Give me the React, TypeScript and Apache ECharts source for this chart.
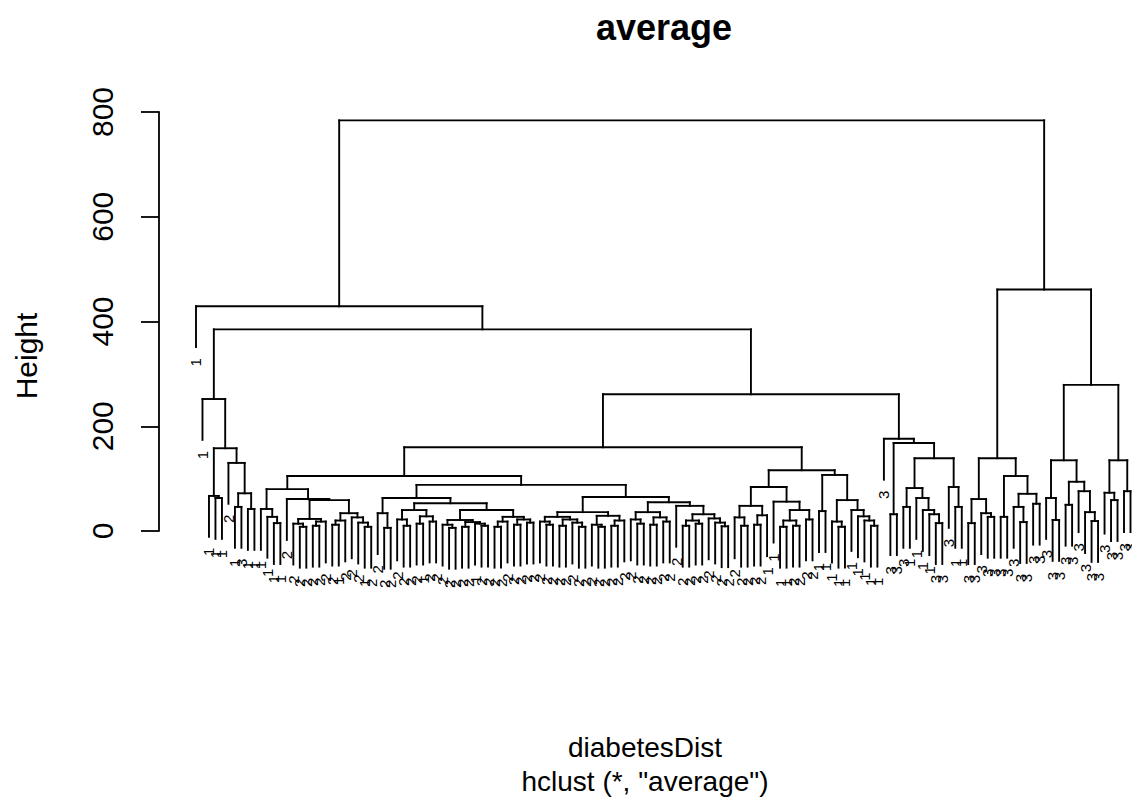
import React, { useEffect, useRef } from "react";
import * as echarts from "echarts";

// Merge heights of the dendrogram (hclust, average linkage); leaves are class labels.
// Node = [height, left, right]; leaf = label string.
const hangHeight = 78;

const groupOutliers = [252, "1", [158, [67, "1", [63, "1", "1"]], [130, "2", [72, [46, "1", "3"], [42, "1", "1"]]]]];

const groupMixedA = [80, [42, "1", [27, "1", [15, "1", "1"]]], [61, "2", [59, [23, [14, "2", [8, "2", "2"]], [18, [10, "2", "2"], "2"]], [34, [20, [12, "2", "1"], "2"], [26, "2", [16, "2", [8, "1", "2"]]]]]]];

const groupTwosA = [63, [34, "2", [6, "2", "2"]], [53, [40, [22, "2", [10, "2", "2"]], [28, [14, "2", "1"], [18, "2", "2"]]], [40, [21, [12, "2", [6, "2", "2"]], [17, [8, "2", "2"], [14, "1", [10, "2", "2"]]]], [27, [18, [8, "2", "2"], "2"], [22, [12, "2", "2"], [16, "2", "2"]]]]]];

const groupTwosB = [65, [36, [27, [18, "2", [12, "2", "2"]], [22, [10, "2", "2"], [16, "2", [8, "2", "2"]]]], [29, [12, "2", [8, "2", "2"]], [20, [10, "2", "2"], "2"]]], [55, [36, [22, "2", [14, "2", "2"]], [26, [12, "2", "2"], [18, "2", "2"]]], [48, "2", [32, [20, [10, "2", "2"], [14, "2", "2"]], [24, "2", [16, "2", [9, "2", "2"]]]]]]];

const groupMixedB = [116, [84, [48, [26, "2", [10, "2", "2"]], [30, [12, "2", "2"], "1"]], [56, "1", [40, [20, [8, "1", "1"], [10, "2", "2"]], [22, "2", "2"]]]], [107, [38, "1", "1"], [59, [18, "1", [8, "1", "1"]], [40, "1", [28, "1", [20, "1", [10, "1", "1"]]]]]]];

const groupThreesA = [176, "3", [168, [32, "3", "3"], [139, [82, [46, "3", "1"], [63, "1", [40, "1", [32, "1", [15, "3", "3"]]]]], [84, "3", [46, "1", "1"]]]]];

const groupThreesB = [139, [61, [15, "3", "3"], [34, "3", [27, "3", "3"]]], [105, [27, "3", "3"], [71, [46, "3", [17, "3", "3"]], [52, "3", "3"]]]];

const groupThreesC = [279, [135, [63, "3", [21, "3", "3"]], [94, [50, "3", "3"], [76, "3", [36, "3", [19, "3", "3"]]]]], [135, [73, "3", [59, "3", "3"]], [76, "3", "3"]]];

const upperHeights = [784, 429, 385, 261, 160, 105, 88, 461];

const yTicks = [0, 200, 400, 600, 800];

function buildTree(): any {
  const [hRoot, hL, h385, h261, h160, h105, h88, hR] = upperHeights;
  return [
    hRoot,
    [hL, "1", [h385, groupOutliers, [h261, [h160, [h105, groupMixedA, [h88, groupTwosA, groupTwosB]], groupMixedB], groupThreesA]]],
    [hR, groupThreesB, groupThreesC],
  ];
}

function layoutTree(tree: any) {
  const segs: number[][] = [];
  const leaves: any[] = [];
  let idx = 0;
  const walk = (node: any, parentH: number): { x: number; y: number } => {
    if (typeof node === "string") {
      const x = idx++;
      leaves.push([x, parentH - hangHeight, node]);
      return { x, y: parentH - hangHeight };
    }
    const [h, l, r] = node;
    const a = walk(l, h);
    const b = walk(r, h);
    segs.push([a.x, h, b.x, h]);
    segs.push([a.x, h, a.x, a.y]);
    segs.push([b.x, h, b.x, b.y]);
    return { x: (a.x + b.x) / 2, y: h };
  };
  walk(tree, 0);
  return { segs, leaves, count: idx };
}

const FONT = '"Liberation Sans", Arial, Helvetica, sans-serif';

export default function App() {
  const ref = useRef<HTMLDivElement>(null);
  useEffect(() => {
    document.body.style.margin = "0";
    const chart = echarts.init(ref.current!, null, { renderer: "svg" });
    const { segs, leaves, count } = layoutTree(buildTree());
    const option: any = {
      animation: false,
      backgroundColor: "#ffffff",
      grid: { left: 159, right: 1.5, top: 112, bottom: 272, containLabel: false },
      xAxis: { type: "value", min: -5.7, max: count - 1, show: false },
      yAxis: {
        type: "value",
        min: yTicks[0],
        max: yTicks[yTicks.length - 1],
        interval: 200,
        axisLine: { show: true, onZero: false, lineStyle: { color: "#000", width: 1.8 } },
        axisTick: { show: true, length: 18, lineStyle: { color: "#000", width: 1.8 } },
        axisLabel: { rotate: 90, margin: 42, fontSize: 30, color: "#000", fontFamily: FONT },
        splitLine: { show: false },
      },
      graphic: [
        {
          type: "text",
          x: 664,
          y: 27,
          style: { text: "average", font: `bold 36px ${FONT}`, fill: "#000", align: "center", verticalAlign: "middle" },
        },
        {
          type: "text",
          x: 26,
          y: 356,
          rotation: Math.PI / 2,
          style: { text: "Height", font: `30px ${FONT}`, fill: "#000", align: "center", verticalAlign: "middle" },
        },
        {
          type: "text",
          x: 645,
          y: 747,
          style: { text: "diabetesDist", font: `28px ${FONT}`, fill: "#000", align: "center", verticalAlign: "middle" },
        },
        {
          type: "text",
          x: 645,
          y: 781,
          style: { text: 'hclust (*, "average")', font: `28px ${FONT}`, fill: "#000", align: "center", verticalAlign: "middle" },
        },
      ],
      series: [
        {
          type: "custom",
          silent: true,
          clip: false,
          data: segs,
          encode: { x: [0, 2], y: [1, 3] },
          renderItem: (params: any, api: any) => {
            const p1 = api.coord([api.value(0), api.value(1)]);
            const p2 = api.coord([api.value(2), api.value(3)]);
            return {
              type: "line",
              shape: { x1: p1[0], y1: p1[1], x2: p2[0], y2: p2[1] },
              style: { stroke: "#000", lineWidth: 1.9, lineCap: "square" },
            };
          },
        },
        {
          type: "custom",
          silent: true,
          clip: false,
          data: leaves.map((l) => [l[0], l[1]]),
          encode: { x: 0, y: 1 },
          renderItem: (params: any, api: any) => {
            const p = api.coord([api.value(0), api.value(1)]);
            return {
              type: "text",
              x: p[0],
              y: p[1] + 11,
              rotation: Math.PI / 2,
              style: {
                text: leaves[params.dataIndex][2],
                font: `15px ${FONT}`,
                fill: "#000",
                align: "right",
                verticalAlign: "middle",
              },
            };
          },
        },
      ],
    };
    chart.setOption(option);
    return () => chart.dispose();
  }, []);
  return <div ref={ref} style={{ width: 1132, height: 803 }} />;
}
